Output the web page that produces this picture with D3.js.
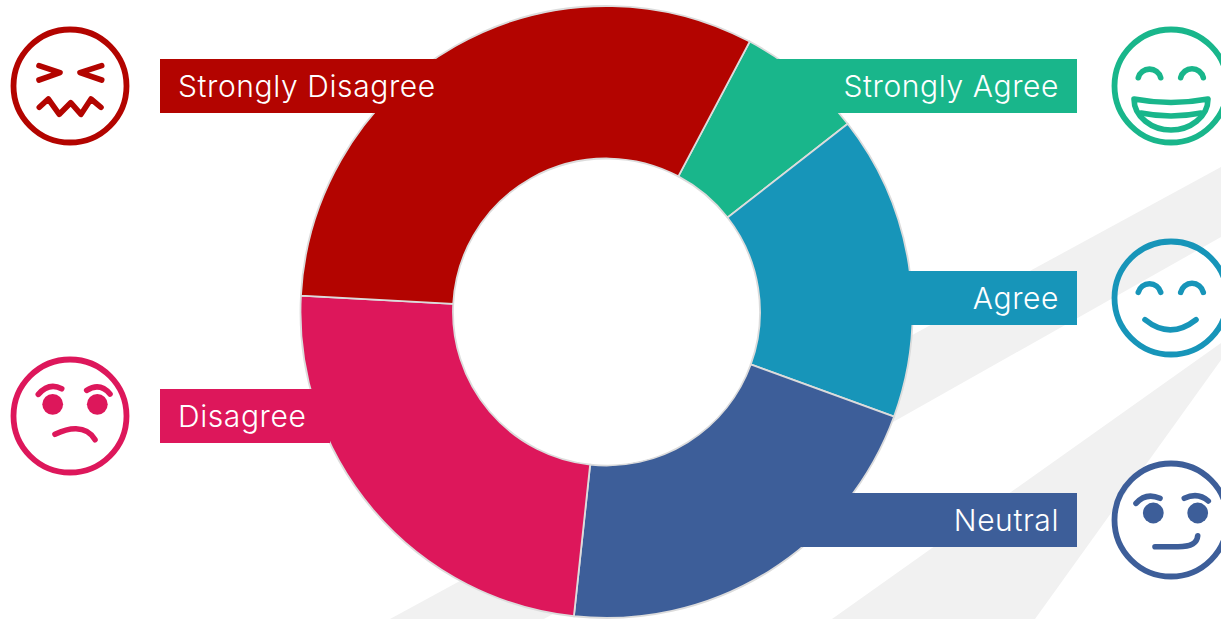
<!DOCTYPE html>
<html>
<head>
<meta charset="utf-8">
<title>Survey donut</title>
<script src="https://cdnjs.cloudflare.com/ajax/libs/d3/7.8.5/d3.min.js"></script>
<style>
    html, body { margin: 0; padding: 0; background: #fff; overflow: hidden; }
    text { font-family: "Inter", sans-serif; font-weight: 300; fill: #fff; letter-spacing: 0.6px; }
</style>
</head>
<body>
<div id="chart"></div>
<script>
// slices, clockwise from the top-right one
var categories = ["Strongly Agree", "Agree", "Neutral", "Disagree", "Strongly Disagree"];
var shares = [6.7, 16.1, 21.15, 24.15, 31.9];
var colors = ["#19b68b", "#1795b9", "#3d5e99", "#dd175b", "#b30400"];

var width = 1221, height = 619;
var cx = 606.5, cy = 312, outer = 306, inner = 153.5;
var startDeg = 27.9;

var svg = d3.select("#chart").append("svg")
    .attr("width", width)
    .attr("height", height)
    .style("display", "block");

// grey bands behind the donut
var bands = [
    [[390, 619], [544, 619], [1221, 237], [1221, 167]],
    [[832, 619], [1035, 619], [1221, 360], [1221, 343]]
];
svg.selectAll(".band")
    .data(bands)
    .enter()
    .append("polygon")
    .attr("class", "band")
    .attr("points", function(d) { return d.join(" "); })
    .style("fill", "#f1f1f1");

var pie = d3.pie()
    .sort(null)
    .startAngle(startDeg * Math.PI / 180)
    .endAngle((startDeg + 360) * Math.PI / 180);

var arc = d3.arc().innerRadius(inner).outerRadius(outer);

var donut = svg.append("g")
    .attr("transform", "translate(" + cx + "," + cy + ")");

donut.selectAll(".slice")
    .data(pie(shares))
    .enter()
    .append("path")
    .attr("class", "slice")
    .attr("d", arc)
    .style("fill", function(d, i) { return colors[i]; })
    .style("stroke", "#dcdcdc")
    .style("stroke-width", 1.8);

// label bars by category
var barX0 = [760, 781, 720, 160, 160];
var barX1 = [1077, 1077, 1077, 330, 480];
var barY = [59, 271, 493, 389, 59];
var barH = 54;

svg.selectAll(".bar")
    .data(categories)
    .enter()
    .append("rect")
    .attr("class", "bar")
    .attr("x", function(d, i) { return barX0[i]; })
    .attr("y", function(d, i) { return barY[i]; })
    .attr("width", function(d, i) { return barX1[i] - barX0[i]; })
    .attr("height", barH)
    .style("fill", function(d, i) { return colors[i]; });

svg.selectAll(".label")
    .data(categories)
    .enter()
    .append("text")
    .attr("class", "label")
    .attr("x", function(d, i) { return i < 3 ? 1059 : 178; })
    .attr("y", function(d, i) { return barY[i] + 37.5; })
    .attr("text-anchor", function(d, i) { return i < 3 ? "end" : "start"; })
    .style("font-size", "30px")
    .text(function(d) { return d; });

// faces, drawn around each icon's centre
var faceX = [1171, 1171, 1171, 70, 70];
var faceY = [86, 298, 520, 416, 86];
var facePaths = [
    ["M-32.7,-8.3A11.6,11.6 0 0 1 -10.3,-8.3", "M9.7,-8.3A11.6,11.6 0 0 1 32.3,-8.3",
     "M-37,13Q0,20 37,13C37,31 19,44 0,44C-19,44 -37,31 -37,13Z", "M-30,27Q0,33 30,27"],
    ["M-32.7,-5.7A11.6,11.6 0 0 1 -10.3,-5.7", "M9.7,-5.7A11.6,11.6 0 0 1 32.3,-5.7", "M-26,21.7Q-1,42 25,21.7"],
    ["M-35,-16.7Q-25,-28 -11,-21.7", "M13.3,-21.7Q27,-28 37.3,-19", "M-16,26.7L7,26.7C19,26.7 26,24 26.7,15.7"],
    ["M-31.7,-21.7Q-21,-34 -8.3,-27.3", "M16.7,-25.7Q30,-34 40,-22", "M-15,18.3Q-3,12.5 6,12.7Q19,13 25,23.7"],
    ["M-31,-20.3L-10,-13.3L-31,-6", "M31.7,-20.3L10,-13.3L31.7,-6",
     "M-30.7,21.3L-21.7,13L-10.7,28.3L0.7,16.7L11,28.3L21,13L31,21.3"]
];
var faceDots = [[], [], [[-17.7, -7], [26.7, -7]], [[-17.3, -11.7], [27.3, -11.7]], []];

var faces = svg.selectAll(".face")
    .data(categories)
    .enter()
    .append("g")
    .attr("class", "face")
    .attr("transform", function(d, i) { return "translate(" + faceX[i] + "," + faceY[i] + ")"; });

faces.each(function(d, i) {
    var g = d3.select(this);

    g.append("circle")
        .attr("r", 56.5)
        .style("fill", "none")
        .style("stroke", colors[i])
        .style("stroke-width", 5.8);

    facePaths[i].forEach(function(p) {
        g.append("path")
            .attr("d", p)
            .style("fill", "none")
            .style("stroke", colors[i])
            .style("stroke-width", 5.6)
            .style("stroke-linecap", "round")
            .style("stroke-linejoin", "round");
    });

    faceDots[i].forEach(function(p) {
        g.append("circle")
            .attr("cx", p[0])
            .attr("cy", p[1])
            .attr("r", 10.4)
            .style("fill", colors[i]);
    });
});
</script>
</body>
</html>
